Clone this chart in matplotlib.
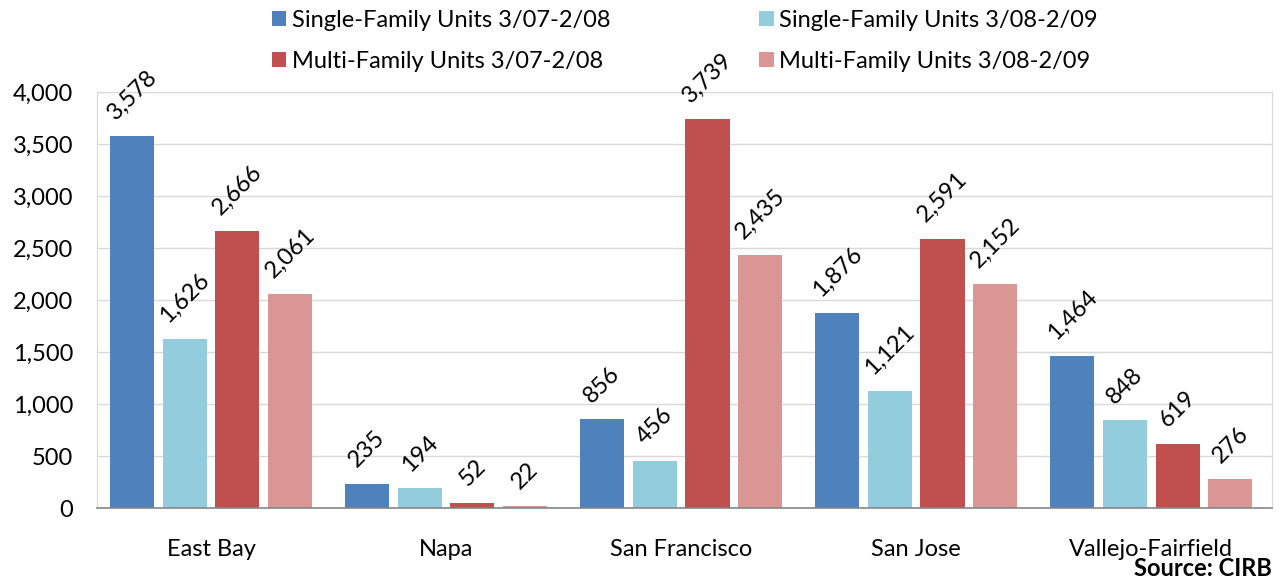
import matplotlib
matplotlib.use("Agg")
import matplotlib.pyplot as plt
import numpy as np
from matplotlib.patches import Patch

regions = ["East Bay", "Napa", "San Francisco", "San Jose", "Vallejo-Fairfield"]
sf_0708 = [3578, 235, 856, 1876, 1464]
sf_0809 = [1626, 194, 456, 1121, 848]
mf_0708 = [2666, 52, 3739, 2591, 619]
mf_0809 = [2061, 22, 2435, 2152, 276]

series = [
    ("Single-Family Units 3/07-2/08", sf_0708, "#4F81BD"),
    ("Single-Family Units 3/08-2/09", sf_0809, "#93CDDD"),
    ("Multi-Family Units 3/07-2/08", mf_0708, "#C0504D"),
    ("Multi-Family Units 3/08-2/09", mf_0809, "#D99694"),
]

plt.rcParams["font.family"] = ["Lato", "DejaVu Sans"]
fs = 17

fig = plt.figure(figsize=(12.86, 5.86), dpi=100)
ax = fig.add_axes([0.0754, 0.133, 0.914, 0.710])

x = np.arange(len(regions))
pitch = 0.224
width = 0.188
for i, (name, vals, color) in enumerate(series):
    pos = x + (i - 1.5) * pitch
    bars = ax.bar(pos, vals, width=width, color=color, zorder=3)
    for b, v in zip(bars, vals):
        ax.annotate(f"{v:,}", (b.get_x() + b.get_width() / 2, v),
                    xytext=(0, 9), textcoords="offset points",
                    rotation=45, ha="center", va="bottom", fontsize=fs,
                    color="#000000")

ax.set_ylim(0, 4000)
ax.set_xlim(-0.485, 4.515)
ax.set_yticks(range(0, 4001, 500))
ax.set_yticklabels([f"{t:,}" for t in range(0, 4001, 500)])
ax.set_xticks(x)
ax.set_xticklabels(regions)
ax.tick_params(axis="both", length=0, labelsize=fs)
ax.tick_params(axis="x", pad=22)
ax.tick_params(axis="y", pad=17)
ax.grid(axis="y", color="#D9D9D9", linewidth=1, zorder=0)
for s in ["top", "left", "right"]:
    ax.spines[s].set_color("#D9D9D9")
ax.spines["bottom"].set_color("#868686")
ax.spines["bottom"].set_linewidth(1.2)
ax.spines["bottom"].set_zorder(4)

handles = [Patch(facecolor=c, label=n) for n, _, c in series]
order = [0, 2, 1, 3]
fig.legend([handles[i] for i in order], [series[i][0] for i in order],
           ncol=2, loc="upper left", bbox_to_anchor=(0.195, 1.02),
           frameon=False, fontsize=fs, handlelength=0.6, handleheight=0.6,
           handletextpad=0.25, labelspacing=0.85, columnspacing=6.3)

fig.text(0.989, 0.01, "Source: CIRB", ha="right", va="bottom",
         fontsize=fs, fontweight="bold")

fig.savefig("out.png", dpi=100)
